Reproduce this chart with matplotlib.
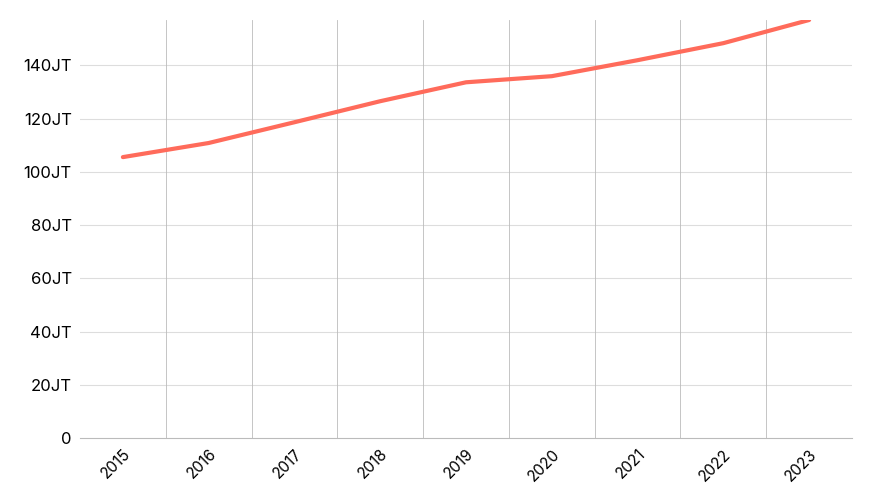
import numpy as np
import matplotlib.pyplot as plt

plt.rcParams['font.family'] = ['Inter', 'DejaVu Sans']

years = ['2015', '2016', '2017', '2018', '2019', '2020', '2021', '2022', '2023']
values = [105.5, 110.8, 118.6, 126.5, 133.6, 135.9, 141.9, 148.3, 157.0]  # in JT
y_ticks = [0, 20, 40, 60, 80, 100, 120, 140]
y_labels = ['0'] + [f'{v}JT' for v in y_ticks[1:]]

fig = plt.figure(figsize=(8.73, 5.0), dpi=100)
ax = fig.add_axes([80 / 873, 62 / 500, 772 / 873, 418 / 500])

x = np.arange(len(years))
ax.plot(x, values, color='#ff6b5b', linewidth=3, solid_capstyle='round', zorder=3)

ax.set_xlim(-0.5, len(years) - 0.5)
ax.set_ylim(0, 157)
ax.set_yticks(y_ticks)
ax.set_yticklabels(y_labels, fontsize=12)
ax.set_xticks(x)
ax.set_xticklabels(years, rotation=45, ha='right', rotation_mode='anchor', fontsize=11)
ax.tick_params(length=0, pad=6)

# horizontal grid
for v in y_ticks[1:]:
    ax.axhline(v, color='#dddddd', linewidth=0.8, zorder=1)
# vertical band boundaries
for b in x[:-1] + 0.5:
    ax.axvline(b, color='#bbbbbb', linewidth=0.6, zorder=1)

for s in ['top', 'right', 'left']:
    ax.spines[s].set_visible(False)
ax.spines['bottom'].set_color('#bbbbbb')

fig.savefig('out.png', dpi=100)
